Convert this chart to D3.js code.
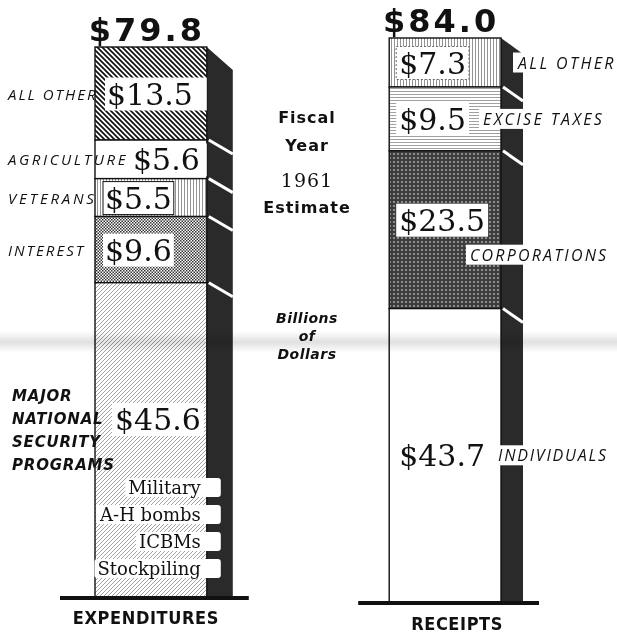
<!DOCTYPE html>
<html>
<head>
<meta charset="utf-8">
<script src="https://cdn.jsdelivr.net/npm/d3@7"></script>
<style>
  body { margin: 0; background: #fff; }
</style>
</head>
<body>
<svg id="chart"></svg>
<script>
// fiscal year 1961 estimate, billions of dollars (top of bar first)
const barNames = ["EXPENDITURES", "RECEIPTS"];
const totals = [79.8, 84.0];
const expCategories = ["ALL OTHER", "AGRICULTURE", "VETERANS", "INTEREST", "MAJOR NATIONAL SECURITY PROGRAMS"];
const expValues = [13.5, 5.6, 5.5, 9.6, 45.6];
const recCategories = ["ALL OTHER", "EXCISE TAXES", "CORPORATIONS", "INDIVIDUALS"];
const recValues = [7.3, 9.5, 23.5, 43.7];
const securityItems = ["Military", "A-H bombs", "ICBMs", "Stockpiling"];
const sideNotes = ["Fiscal", "Year", "1961", "Estimate"];
const unitNotes = ["Billions", "of", "Dollars"];

const W = 617, H = 634;
const svg = d3.select("#chart").attr("width", W).attr("height", H);
const defs = svg.append("defs");

// ---- fill patterns, newspaper style
function pattern(id, size, bg, draw) {
  const p = defs.append("pattern").attr("id", id)
    .attr("patternUnits", "userSpaceOnUse").attr("width", size).attr("height", size);
  p.append("rect").attr("width", size).attr("height", size).attr("fill", bg);
  draw(p);
}
pattern("hatchDark", 5, "#fff", p => p.append("path")
  .attr("d", "M0,0L5,5M-1,4L1,6M4,-1L6,1").attr("stroke", "#111").attr("stroke-width", 1.7));
pattern("hatchLight", 4, "#fff", p => p.append("path")
  .attr("d", "M0,4L4,0M-1,1L1,-1M3,5L5,3").attr("stroke", "#8a8a8a").attr("stroke-width", 0.8));
pattern("vLines", 3, "#fff", p => p.append("path")
  .attr("d", "M1.5,0V3").attr("stroke", "#777").attr("stroke-width", 0.8));
pattern("hLines", 3, "#fff", p => p.append("path")
  .attr("d", "M0,1.5H3").attr("stroke", "#888").attr("stroke-width", 0.8));
pattern("checker", 3, "#fff", p => {
  p.append("rect").attr("width", 1.5).attr("height", 1.5).attr("fill", "#333");
  p.append("rect").attr("x", 1.5).attr("y", 1.5).attr("width", 1.5).attr("height", 1.5).attr("fill", "#333");
});
pattern("halftone", 4, "#3c3c3c", p => p.append("circle")
  .attr("cx", 2).attr("cy", 2).attr("r", 1.1).attr("fill", "#a0a0a0"));

const expFills = ["url(#hatchDark)", "#fff", "url(#vLines)", "url(#checker)", "url(#hatchLight)"];
const recFills = ["url(#vLines)", "url(#hLines)", "url(#halftone)", "#fff"];

// faint scanner band across the page
const band = defs.append("linearGradient").attr("id", "band").attr("x1", 0).attr("x2", 0).attr("y1", 0).attr("y2", 1);
band.append("stop").attr("offset", 0).attr("stop-color", "#999").attr("stop-opacity", 0);
band.append("stop").attr("offset", 0.5).attr("stop-color", "#999").attr("stop-opacity", 0.3);
band.append("stop").attr("offset", 1).attr("stop-color", "#999").attr("stop-opacity", 0);

// ---- scales
const x = d3.scaleBand().domain(barNames).range([95, 501]).paddingInner(0.62);
const bars = [
  { name: barNames[0], total: totals[0], cats: expCategories, vals: expValues, fills: expFills,
    y: d3.scaleLinear().domain([0, totals[0]]).range([597, 47]), dx: 26, dy: 23, nameDx: -5, nameDy: 27 },
  { name: barNames[1], total: totals[1], cats: recCategories, vals: recValues, fills: recFills,
    y: d3.scaleLinear().domain([0, totals[1]]).range([602, 38]), dx: 22, dy: 16, nameDx: 12, nameDy: 28 }
];
bars.forEach(b => {
  b.x0 = x(b.name);
  b.x1 = b.x0 + x.bandwidth();
  const above = [0, ...d3.cumsum(b.vals)];
  b.segs = b.vals.map((v, i) => ({
    cat: b.cats[i], value: v, fill: b.fills[i],
    top: b.y(b.total - above[i]), bottom: b.y(b.total - above[i] - v)
  }));
  b.segs.forEach(s => s.mid = (s.top + s.bottom) / 2);
});

const serif = "'DejaVu Serif', serif";
const sans = "'DejaVu Sans', sans-serif";
const lettering = "'Open Sans', sans-serif";

// label with a white box behind it
function boxed(g, x, y, txt, o) {
  const grp = g.append("g");
  const t = grp.append("text").attr("x", x).attr("y", y)
    .attr("text-anchor", o.anchor || "start")
    .style("font-family", o.family).style("font-size", o.size + "px")
    .style("font-style", o.italic ? "italic" : "normal")
    .style("font-weight", o.weight || 400)
    .style("letter-spacing", (o.ls || 0) + "px")
    .attr("fill", "#111").text(txt);
  const bb = t.node().getBBox();
  const px = o.pad == null ? 3 : o.pad;
  const left = o.boxLeft != null ? o.boxLeft : bb.x - px;
  const right = o.boxRight != null ? o.boxRight : bb.x + bb.width + px;
  grp.insert("rect", "text").attr("x", left).attr("y", bb.y + 1)
    .attr("width", right - left).attr("height", bb.height - 2)
    .attr("fill", "#fff")
    .attr("stroke", o.stroke || "none").attr("stroke-width", 1)
    .attr("stroke-dasharray", o.dash || null)
    .attr("rx", o.rx || 0);
  return grp;
}

const g = svg.append("g");

bars.forEach(b => {
  // dark side face
  g.append("path")
    .attr("d", `M${b.x1},${b.y(b.total)}L${b.x1 + b.dx},${b.y(b.total) + b.dy}L${b.x1 + b.dx},${b.y(0)}L${b.x1},${b.y(0)}Z`)
    .attr("fill", "#2a2a2a");
  // white slanted separators on the side
  g.selectAll(null).data(b.segs.slice(1)).join("line")
    .attr("x1", b.x1 + 2).attr("y1", d => d.top)
    .attr("x2", b.x1 + b.dx).attr("y2", d => d.top + 14)
    .attr("stroke", "#fff").attr("stroke-width", 3);
  // front face segments
  g.selectAll(null).data(b.segs).join("rect")
    .attr("x", b.x0).attr("y", d => d.top)
    .attr("width", b.x1 - b.x0).attr("height", d => d.bottom - d.top)
    .attr("fill", d => d.fill)
    .attr("stroke", "#111").attr("stroke-width", 1.4);
  // baseline
  g.append("line")
    .attr("x1", b.x0 - (b.name === barNames[0] ? 35 : 31)).attr("x2", b.x1 + b.dx + 16)
    .attr("y1", b.y(0) + 1).attr("y2", b.y(0) + 1)
    .attr("stroke", "#111").attr("stroke-width", 4);
  // total on top
  g.append("text")
    .attr("x", (b.x0 + b.x1) / 2 - 4).attr("y", b.y(b.total) - 6)
    .attr("text-anchor", "middle")
    .style("font-family", sans).style("font-weight", 700).style("font-size", "32px")
    .style("letter-spacing", "3px").attr("fill", "#111")
    .text("$" + d3.format(".1f")(b.total));
  // name under the bar
  g.append("text")
    .attr("x", (b.x0 + b.x1) / 2 + b.nameDx).attr("y", b.y(0) + b.nameDy)
    .attr("text-anchor", "middle")
    .style("font-family", "'DejaVu Sans Condensed', 'DejaVu Sans', sans-serif")
    .style("font-stretch", "condensed").style("font-weight", 700)
    .style("font-size", "18px").style("letter-spacing", "0.6px")
    .attr("fill", "#111").text(b.name);
});

// ---- expenditures labels
const E = bars[0];
const expValueDx = [12, 38, 10, 10];
const expCatSpacing = [2, 2.6, 2.8, 2];
E.segs.slice(0, 4).forEach((s, i) => {
  boxed(g, E.x0 + expValueDx[i], s.mid + 11, "$" + s.value, {
    family: serif, size: 30, pad: 2,
    boxRight: i < 2 ? E.x1 : null,
    stroke: i === 2 ? "#111" : "none"
  });
  g.append("text").attr("x", 8).attr("y", s.mid + 6)
    .style("font-family", lettering).style("font-style", "italic").style("font-weight", 500)
    .style("font-size", "15px").style("letter-spacing", expCatSpacing[i] + "px")
    .attr("fill", "#111").text(s.cat);
});
const sec = E.segs[4];
boxed(g, E.x0 + 20, sec.bottom - 167, "$" + sec.value, { family: serif, size: 30, pad: 3 });
const secWords = sec.cat.split(" ");
g.selectAll(null).data(secWords).join("text")
  .attr("x", 12).attr("y", (d, i) => sec.bottom - 196 + i * 23)
  .style("font-family", sans).style("font-style", "italic").style("font-weight", 700)
  .style("font-size", "15px").style("letter-spacing", "0.8px")
  .attr("fill", "#111").text(d => d);
securityItems.forEach((item, i) => {
  boxed(g, E.x1 - 6, sec.bottom - 103 + i * 27, item, {
    family: serif, size: 18, anchor: "end", pad: 3,
    boxRight: E.x1 + 14, rx: 3
  });
});

// ---- receipts labels
const R = bars[1];
const recValueDx = [10, 10, 10, 10];
const recValueDy = [0, 0, -10, 0];
const recCatX = [518, 483, 470, 498];
const recCatDy = [0, 0, 25, 0];
const recCatSpacing = [2.4, 2.4, 2.2, 1.8];
R.segs.forEach((s, i) => {
  boxed(g, R.x0 + recValueDx[i], s.mid + recValueDy[i] + 11, "$" + s.value, {
    family: serif, size: 30, pad: 3,
    stroke: i === 0 ? "#666" : "none", dash: i === 0 ? "2,2" : null
  });
  boxed(g, recCatX[i], s.mid + recCatDy[i] + 6, s.cat, {
    family: lettering, size: 16, italic: true, weight: 500, ls: recCatSpacing[i], pad: 4, boxRight: W
  });
});

// ---- notes in the middle
const cx = 307;
g.selectAll(null).data(sideNotes).join("text")
  .attr("x", cx).attr("y", (d, i) => [123, 151, 187, 213][i])
  .attr("text-anchor", "middle")
  .style("font-family", (d, i) => i === 2 ? serif : sans)
  .style("font-weight", (d, i) => i === 2 ? 400 : 700)
  .style("font-size", (d, i) => i === 2 ? "19px" : "16px")
  .style("letter-spacing", "1px")
  .attr("fill", "#111").text(d => d);
g.selectAll(null).data(unitNotes).join("text")
  .attr("x", cx).attr("y", (d, i) => 323 + i * 18)
  .attr("text-anchor", "middle")
  .style("font-family", sans).style("font-style", "italic").style("font-weight", 600)
  .style("font-size", "14px").style("letter-spacing", "0.5px")
  .attr("fill", "#111").text(d => d);

// scanner band
svg.append("rect").attr("x", 0).attr("y", 331).attr("width", W).attr("height", 22)
  .attr("fill", "url(#band)").style("mix-blend-mode", "multiply");
</script>
</body>
</html>
